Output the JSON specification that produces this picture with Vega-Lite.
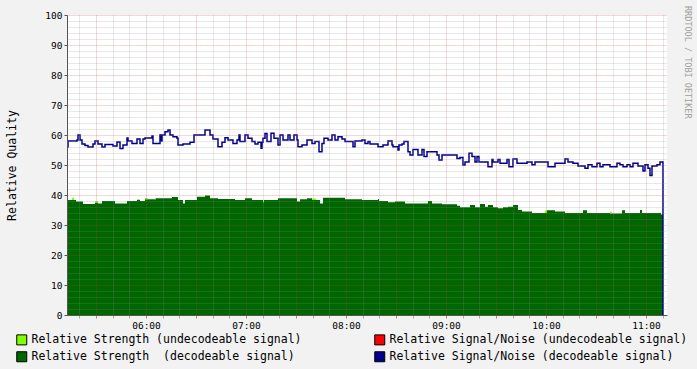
{
  "$schema": "https://vega.github.io/schema/vega-lite/v6.json",
  "width": 600,
  "height": 300,
  "autosize": {"type": "none"},
  "padding": {"left": 67, "top": 15, "right": 30, "bottom": 54},
  "background": "#f2f2f2",
  "view": {"fill": "white", "stroke": null},
  "config": {"font": "DejaVu Sans Mono"},
  "title": {"text": "RRDTOOL / TOBI OETIKER", "orient": "right", "anchor": "start", "frame": "group", "fontSize": 8.5, "font": "DejaVu Sans Mono", "fontWeight": "normal", "color": "#a0a0a0", "offset": -5, "dx": -9},
  "encoding": {
    "x": {
      "field": "t", "type": "temporal",
      "scale": {"type": "utc", "domain": [-2208970044000, -2208948444000], "nice": false},
      "axis": {
        "title": null,
        "values": [-2208969600000, -2208969000000, -2208968400000, -2208967800000, -2208967200000, -2208966600000, -2208966000000, -2208965400000, -2208964800000, -2208964200000, -2208963600000, -2208963000000, -2208962400000, -2208961800000, -2208961200000, -2208960600000, -2208960000000, -2208959400000, -2208958800000, -2208958200000, -2208957600000, -2208957000000, -2208956400000, -2208955800000, -2208955200000, -2208954600000, -2208954000000, -2208953400000, -2208952800000, -2208952200000, -2208951600000, -2208951000000, -2208950400000, -2208949800000, -2208949200000, -2208948600000],
        "labelExpr": "utcminutes(datum.value) === 0 ? utcFormat(datum.value, '%H:%M') : ''",
        "labelOverlap": false, "labelFlush": false,
        "labelFont": "DejaVu Sans Mono", "labelFontSize": 9.5, "labelColor": "#000", "labelPadding": 2,
        "grid": true, "gridDash": [1, 1],
        "gridColor": {"condition": {"test": "utcminutes(datum.value) % 30 === 0", "value": "rgba(200,60,60,0.4)"}, "value": "rgba(140,140,140,0.4)"},
        "tickColor": {"condition": {"test": "utcminutes(datum.value) % 30 === 0", "value": "rgba(200,60,60,0.7)"}, "value": "rgba(140,140,140,0.7)"},
        "tickSize": 3, "domainColor": "#555", "zindex": 1
      }
    }
  },
  "layer": [
    {
      "data": {
        "format": {"parse": {"t": "utc:'%H:%M:%S'"}},
        "values": [
          {"t": "05:12:36", "sd": 38.3, "su": 0},
          {"t": "05:15:36", "sd": 38.3, "su": 0.8},
          {"t": "05:16:48", "sd": 38.3, "su": 0},
          {"t": "05:18:00", "sd": 37.8, "su": 0},
          {"t": "05:22:12", "sd": 37, "su": 0},
          {"t": "05:29:24", "sd": 37.5, "su": 0.5},
          {"t": "05:31:12", "sd": 37.2, "su": 0},
          {"t": "05:33:36", "sd": 38, "su": 0},
          {"t": "05:41:24", "sd": 37.2, "su": 0},
          {"t": "05:48:36", "sd": 38, "su": 0},
          {"t": "05:54:36", "sd": 38.4, "su": 0},
          {"t": "05:56:24", "sd": 38, "su": 0},
          {"t": "05:59:24", "sd": 38.6, "su": 0.4},
          {"t": "06:01:12", "sd": 38.6, "su": 0},
          {"t": "06:05:24", "sd": 38.6, "su": 0.4},
          {"t": "06:06:00", "sd": 38.9, "su": 0},
          {"t": "06:11:24", "sd": 38.9, "su": 0},
          {"t": "06:15:36", "sd": 39.3, "su": 0},
          {"t": "06:19:12", "sd": 38.3, "su": 0},
          {"t": "06:22:12", "sd": 37.2, "su": 0},
          {"t": "06:23:24", "sd": 38.3, "su": 0},
          {"t": "06:30:36", "sd": 39.4, "su": 0},
          {"t": "06:35:24", "sd": 39.8, "su": 0},
          {"t": "06:38:24", "sd": 38.9, "su": 0},
          {"t": "06:43:12", "sd": 38.7, "su": 0},
          {"t": "06:53:24", "sd": 38.3, "su": 0},
          {"t": "06:59:24", "sd": 38.9, "su": 0},
          {"t": "07:03:36", "sd": 38.3, "su": 0},
          {"t": "07:10:12", "sd": 37.6, "su": 0.6},
          {"t": "07:10:48", "sd": 38.3, "su": 0},
          {"t": "07:19:12", "sd": 38.9, "su": 0},
          {"t": "07:30:36", "sd": 37.8, "su": 0},
          {"t": "07:32:24", "sd": 38.6, "su": 0},
          {"t": "07:36:36", "sd": 38.9, "su": 0},
          {"t": "07:39:36", "sd": 38.3, "su": 0.5},
          {"t": "07:42:00", "sd": 38.3, "su": 0},
          {"t": "07:44:24", "sd": 37.2, "su": 0},
          {"t": "07:46:12", "sd": 39.1, "su": 0},
          {"t": "07:59:24", "sd": 38.6, "su": 0},
          {"t": "08:09:36", "sd": 38.3, "su": 0},
          {"t": "08:19:12", "sd": 38.7, "su": 0},
          {"t": "08:19:48", "sd": 38, "su": 0},
          {"t": "08:25:12", "sd": 37.6, "su": 0},
          {"t": "08:29:24", "sd": 37.8, "su": 0},
          {"t": "08:35:24", "sd": 37.2, "su": 0},
          {"t": "08:49:12", "sd": 38, "su": 0},
          {"t": "08:51:36", "sd": 37.2, "su": 0},
          {"t": "08:57:36", "sd": 36.9, "su": 0},
          {"t": "09:06:36", "sd": 36.4, "su": 0},
          {"t": "09:08:24", "sd": 35.9, "su": 0},
          {"t": "09:14:24", "sd": 36.7, "su": 0},
          {"t": "09:17:24", "sd": 35.9, "su": 0},
          {"t": "09:20:24", "sd": 37, "su": 0},
          {"t": "09:23:24", "sd": 36.1, "su": 0},
          {"t": "09:25:12", "sd": 36.7, "su": 0},
          {"t": "09:28:12", "sd": 35.9, "su": 0},
          {"t": "09:31:12", "sd": 35.6, "su": 0},
          {"t": "09:34:12", "sd": 35.9, "su": 0},
          {"t": "09:37:12", "sd": 36.1, "su": 0},
          {"t": "09:40:12", "sd": 36.7, "su": 0},
          {"t": "09:43:12", "sd": 35, "su": 0},
          {"t": "09:45:36", "sd": 34.5, "su": 0},
          {"t": "09:51:36", "sd": 34, "su": 0},
          {"t": "09:59:24", "sd": 34, "su": 0.8},
          {"t": "10:00:36", "sd": 34.9, "su": 0},
          {"t": "10:05:24", "sd": 34.5, "su": 0},
          {"t": "10:11:24", "sd": 34, "su": 0},
          {"t": "10:22:12", "sd": 34.9, "su": 0},
          {"t": "10:24:36", "sd": 34, "su": 0},
          {"t": "10:38:24", "sd": 33.8, "su": 0.6},
          {"t": "10:39:36", "sd": 33.8, "su": 0},
          {"t": "10:45:36", "sd": 34.9, "su": 0},
          {"t": "10:47:24", "sd": 34, "su": 0},
          {"t": "10:56:24", "sd": 35, "su": 0},
          {"t": "10:57:36", "sd": 34, "su": 0},
          {"t": "11:09:00", "sd": 33.5, "su": 0},
          {"t": "11:10:12", "sd": 0, "su": 0}
        ]
      },
      "transform": [{"fold": ["sd", "su"], "as": ["k", "v"]}],
      "mark": {"type": "area", "interpolate": "step-after", "opacity": 1},
      "encoding": {
        "y": {
          "field": "v", "type": "quantitative", "stack": "zero",
          "scale": {"domain": [0, 100], "nice": false},
          "axis": {
            "title": "Relative Quality",
            "tickCount": 50,
            "labelExpr": "datum.value % 10 === 0 ? datum.label : ''",
            "labelOverlap": false, "labelFlush": false,
            "labelFont": "DejaVu Sans Mono", "labelFontSize": 9.5, "labelColor": "#000", "labelPadding": 2,
            "titleFont": "DejaVu Sans Mono", "titleFontSize": 11.5, "titleFontWeight": "normal", "titleColor": "#000", "titlePadding": 27,
            "grid": true, "gridDash": [1, 1],
            "gridColor": {"condition": {"test": "datum.value % 10 === 0", "value": "rgba(200,60,60,0.4)"}, "value": "rgba(140,140,140,0.4)"},
            "tickColor": {"condition": {"test": "datum.value % 10 === 0", "value": "#555"}, "value": "transparent"},
            "tickSize": 3, "domainColor": "#555", "zindex": 1
          }
        },
        "color": {
          "field": "k", "type": "nominal",
          "scale": {"domain": ["su", "sd", "nu", "nd"], "range": ["#80ff00", "#006600", "#ff0000", "#00008b"]},
          "legend": {
            "title": null, "orient": "none", "legendX": -51, "legendY": 319,
            "columns": 2, "columnPadding": 70, "rowPadding": 2,
            "symbolType": "square", "symbolSize": 100, "symbolStrokeColor": "black", "symbolStrokeWidth": 1,
            "labelFont": "DejaVu Sans Mono", "labelFontSize": 11.5, "labelColor": "#000", "labelOffset": 4, "labelLimit": 0,
            "labelExpr": "datum.value === 'su' ? 'Relative Strength (undecodeable signal)' : datum.value === 'nu' ? 'Relative Signal/Noise (undecodeable signal)' : datum.value === 'sd' ? 'Relative Strength\u00a0 (decodeable signal)' : 'Relative Signal/Noise (decodeable signal)'"
          }
        },
        "order": {"field": "k", "type": "nominal", "sort": "ascending"}
      }
    },
    {
      "data": {
        "format": {"parse": {"t": "utc:'%H:%M:%S'"}},
        "values": [
          {"t": "05:12:36", "v": 56}, {"t": "05:13:12", "v": 58}, {"t": "05:18:36", "v": 58.3}, {"t": "05:19:12", "v": 60},
          {"t": "05:20:24", "v": 58.3}, {"t": "05:21:36", "v": 57}, {"t": "05:23:24", "v": 56.5}, {"t": "05:25:12", "v": 56},
          {"t": "05:28:12", "v": 57}, {"t": "05:29:24", "v": 58}, {"t": "05:31:12", "v": 57}, {"t": "05:33:36", "v": 56},
          {"t": "05:35:24", "v": 56.8}, {"t": "05:40:12", "v": 56.3}, {"t": "05:42:36", "v": 57.7}, {"t": "05:44:24", "v": 55.5},
          {"t": "05:46:12", "v": 56.7}, {"t": "05:48:36", "v": 59}, {"t": "05:49:12", "v": 58}, {"t": "05:51:36", "v": 57.2},
          {"t": "05:54:36", "v": 58.7}, {"t": "05:56:24", "v": 57.2}, {"t": "05:58:12", "v": 58.7}, {"t": "05:59:24", "v": 59},
          {"t": "06:03:36", "v": 59.7}, {"t": "06:04:12", "v": 57.2}, {"t": "06:08:24", "v": 60}, {"t": "06:09:00", "v": 58},
          {"t": "06:09:36", "v": 60}, {"t": "06:11:24", "v": 61.1}, {"t": "06:13:12", "v": 61.7}, {"t": "06:14:24", "v": 60},
          {"t": "06:16:12", "v": 59.4}, {"t": "06:18:36", "v": 58.9}, {"t": "06:19:12", "v": 56.7}, {"t": "06:22:12", "v": 57},
          {"t": "06:26:24", "v": 57.6}, {"t": "06:28:48", "v": 60}, {"t": "06:35:24", "v": 61.7}, {"t": "06:38:24", "v": 60},
          {"t": "06:40:12", "v": 58.7}, {"t": "06:43:12", "v": 56.1}, {"t": "06:45:36", "v": 57.6}, {"t": "06:47:24", "v": 59.1},
          {"t": "06:49:12", "v": 58.3}, {"t": "06:52:12", "v": 57.2}, {"t": "06:54:36", "v": 58.3}, {"t": "06:55:48", "v": 60},
          {"t": "06:56:24", "v": 57.8}, {"t": "06:59:24", "v": 60}, {"t": "07:01:12", "v": 58.9}, {"t": "07:03:36", "v": 57.8},
          {"t": "07:05:24", "v": 57}, {"t": "07:07:12", "v": 57.6}, {"t": "07:09:00", "v": 55.6}, {"t": "07:09:36", "v": 57.6},
          {"t": "07:10:12", "v": 58.9}, {"t": "07:11:24", "v": 60.5}, {"t": "07:12:36", "v": 57.8}, {"t": "07:15:00", "v": 60.6},
          {"t": "07:16:48", "v": 58.9}, {"t": "07:19:12", "v": 56.7}, {"t": "07:20:24", "v": 60}, {"t": "07:22:12", "v": 58.3},
          {"t": "07:25:12", "v": 60}, {"t": "07:26:24", "v": 58.3}, {"t": "07:28:48", "v": 60}, {"t": "07:30:36", "v": 58.3},
          {"t": "07:31:12", "v": 56.1}, {"t": "07:33:36", "v": 56.7}, {"t": "07:36:36", "v": 58.3}, {"t": "07:39:36", "v": 57.2},
          {"t": "07:41:24", "v": 57.8}, {"t": "07:43:48", "v": 54.4}, {"t": "07:45:36", "v": 57.2}, {"t": "07:46:48", "v": 58.9},
          {"t": "07:49:12", "v": 58.3}, {"t": "07:51:36", "v": 60}, {"t": "07:53:24", "v": 58.3}, {"t": "07:55:12", "v": 59.4},
          {"t": "07:57:36", "v": 58.7}, {"t": "07:59:24", "v": 57.8}, {"t": "08:04:12", "v": 56.1}, {"t": "08:05:24", "v": 58},
          {"t": "08:09:36", "v": 58.3}, {"t": "08:11:24", "v": 57.2}, {"t": "08:13:12", "v": 57.8}, {"t": "08:14:24", "v": 57},
          {"t": "08:19:12", "v": 56.1}, {"t": "08:22:12", "v": 56.7}, {"t": "08:25:12", "v": 58}, {"t": "08:27:36", "v": 56.7},
          {"t": "08:28:12", "v": 56.1}, {"t": "08:31:12", "v": 55}, {"t": "08:31:48", "v": 56.7}, {"t": "08:33:36", "v": 57},
          {"t": "08:34:48", "v": 57.8}, {"t": "08:37:12", "v": 54.4}, {"t": "08:38:24", "v": 53.3}, {"t": "08:40:12", "v": 55.2},
          {"t": "08:43:12", "v": 53.3}, {"t": "08:45:36", "v": 55.2}, {"t": "08:46:48", "v": 52.8}, {"t": "08:48:36", "v": 54.4},
          {"t": "08:54:36", "v": 53.3}, {"t": "08:55:48", "v": 51.7}, {"t": "08:57:36", "v": 53.3}, {"t": "09:06:36", "v": 52.2},
          {"t": "09:08:24", "v": 52.5}, {"t": "09:10:12", "v": 50}, {"t": "09:11:24", "v": 51}, {"t": "09:13:48", "v": 53.9},
          {"t": "09:15:36", "v": 52.8}, {"t": "09:17:24", "v": 51}, {"t": "09:18:36", "v": 52.8}, {"t": "09:19:48", "v": 51},
          {"t": "09:25:12", "v": 49.4}, {"t": "09:27:36", "v": 51.8}, {"t": "09:28:12", "v": 51}, {"t": "09:31:12", "v": 51.8},
          {"t": "09:32:24", "v": 50.6}, {"t": "09:36:36", "v": 51.8}, {"t": "09:37:48", "v": 49.4}, {"t": "09:40:12", "v": 52},
          {"t": "09:42:36", "v": 50.6}, {"t": "09:48:36", "v": 51}, {"t": "09:51:36", "v": 50.1}, {"t": "09:53:24", "v": 51},
          {"t": "10:01:12", "v": 49.4}, {"t": "10:05:24", "v": 50.6}, {"t": "10:11:24", "v": 52}, {"t": "10:13:12", "v": 51},
          {"t": "10:16:12", "v": 50.6}, {"t": "10:19:12", "v": 49.7}, {"t": "10:23:24", "v": 48.9}, {"t": "10:25:12", "v": 50.1},
          {"t": "10:27:36", "v": 49.4}, {"t": "10:30:36", "v": 50.6}, {"t": "10:32:24", "v": 49.4}, {"t": "10:34:12", "v": 50.1},
          {"t": "10:38:24", "v": 49.4}, {"t": "10:42:36", "v": 50.6}, {"t": "10:44:24", "v": 50.1}, {"t": "10:46:12", "v": 49.4},
          {"t": "10:48:36", "v": 50.1}, {"t": "10:50:24", "v": 49.4}, {"t": "10:52:12", "v": 50.6}, {"t": "10:55:12", "v": 49.7},
          {"t": "10:58:12", "v": 48}, {"t": "10:59:24", "v": 50.1}, {"t": "11:01:12", "v": 48.9}, {"t": "11:02:24", "v": 46.5},
          {"t": "11:03:36", "v": 49.7}, {"t": "11:06:36", "v": 50.1}, {"t": "11:08:24", "v": 51}, {"t": "11:10:12", "v": 0}
        ]
      },
      "mark": {"type": "line", "interpolate": "step-after", "strokeWidth": 1.5, "color": "#00008b"},
      "encoding": {
        "y": {"field": "v", "type": "quantitative"}
      }
    }
  ]
}
